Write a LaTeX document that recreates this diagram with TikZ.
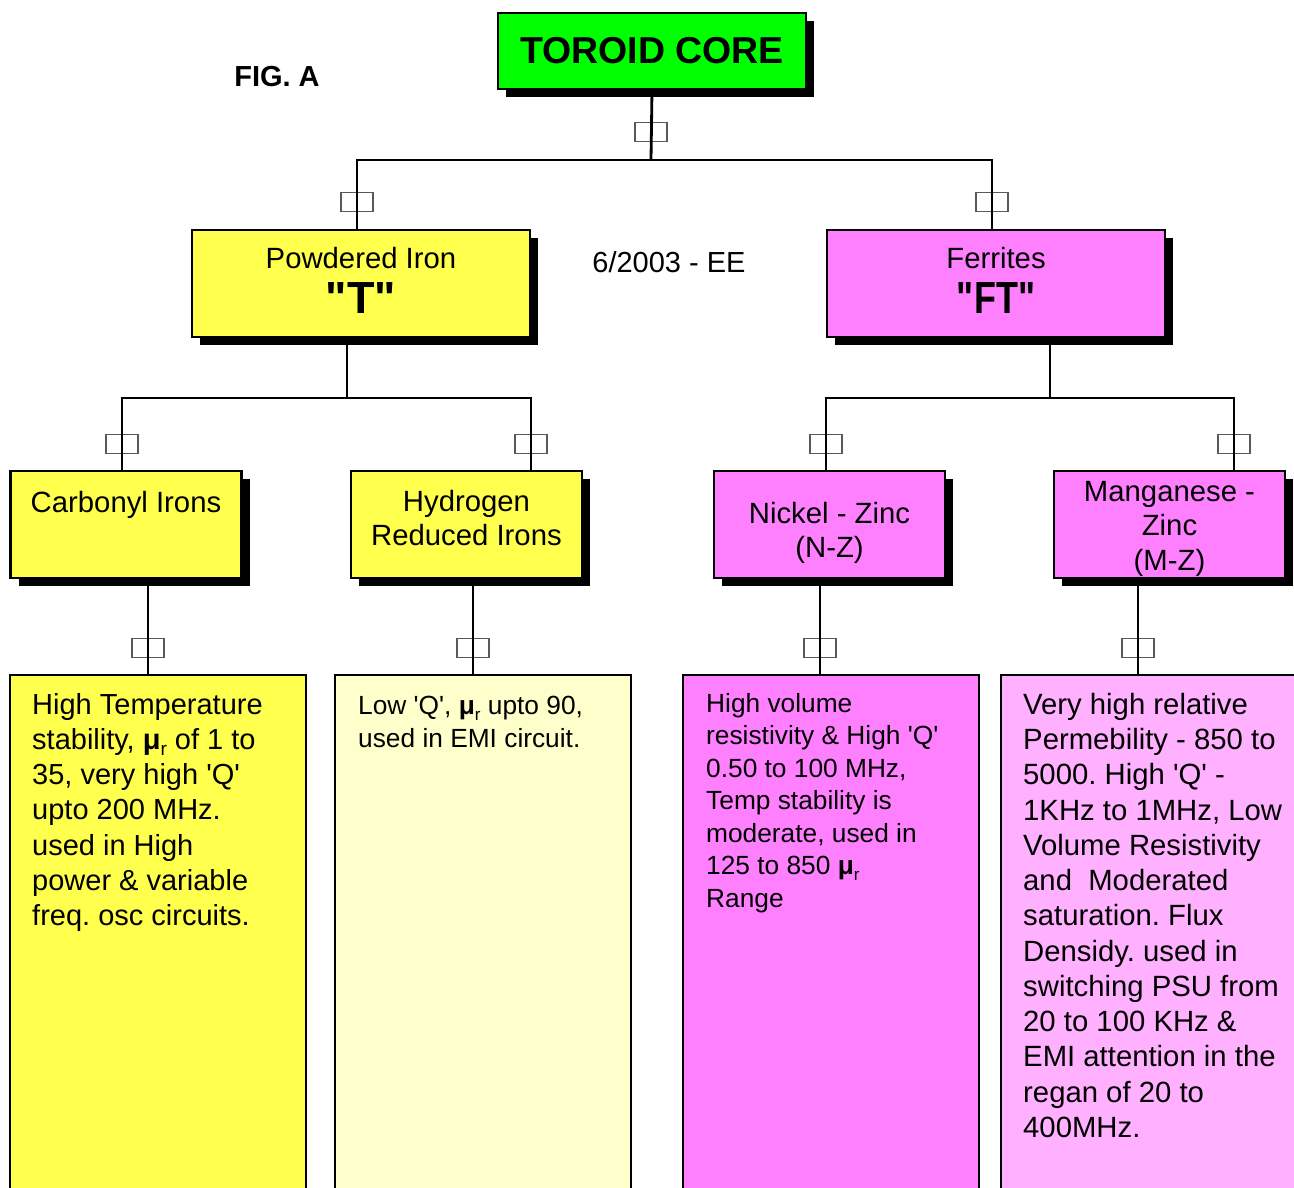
\documentclass[tikz,border=0pt]{standalone}
\usepackage{fontspec}
\newfontfamily\arial{Liberation Sans}
\usetikzlibrary{shadows,backgrounds}
\newcommand\mymu[1]{{\bfseries μ}\raisebox{-0.4ex}{\fontsize{#1}{#1}\selectfont r}}
\definecolor{grn}{HTML}{00FF00}
\definecolor{ylw}{HTML}{FFFF4D}
\definecolor{lylw}{HTML}{FFFFCC}
\definecolor{mag}{HTML}{FF80FF}
\definecolor{lmag}{HTML}{FFB0FF}
\frenchspacing
\begin{document}
\frenchspacing
\begin{tikzpicture}[x=1pt,y=-1pt,
  every node/.style={font=\arial},
  box/.style={draw=black,line width=2.5pt,inner sep=0pt,align=center,
    drop shadow={shadow xshift=8pt,shadow yshift=-8pt,fill=black,opacity=1}},
  kidbox/.style={box,minimum width=231pt,minimum height=107pt,
    font=\arial\fontsize{29.3}{34.5}\selectfont},
  infobox/.style={draw=black,line width=2.5pt,inner sep=0pt,minimum height=525pt},
  infotext/.style={inner sep=0pt,anchor=north west,align=left},
  conn/.style={line width=2.8pt,draw=black},
  jbox/.style={draw=black!65,line width=1.2pt,minimum width=32pt,minimum height=19pt,inner sep=0pt}
]
\useasboundingbox (0,0) rectangle (1294,1188);
\clip (0,0) rectangle (1294,1188);

% top
\node[box,fill=grn,minimum width=308pt,minimum height=76pt,
  font=\arial\bfseries\fontsize{37.5}{40}\selectfont] (tc) at (652,51) {TOROID CORE};
\node[font=\arial\bfseries\fontsize{29}{32}\selectfont] (fig) at (277,77) {FIG. A};
\node[font=\arial\fontsize{29}{32}\selectfont] (date) at (669,262) {6/2003 - EE};

% second level
\node[box,fill=ylw,minimum width=338pt,minimum height=107pt,text depth=6pt,
  font=\arial\fontsize{29.3}{45}\selectfont] (pi) at (361,283.5)
  {Powdered Iron\\{\bfseries\fontsize{45}{45}\selectfont "T"}};
\node[box,fill=mag,minimum width=338pt,minimum height=107pt,text depth=6pt,
  font=\arial\fontsize{29.3}{45}\selectfont] (fe) at (996,283.5)
  {Ferrites\\{\bfseries\fontsize{45}{45}\selectfont\scalebox{0.8}[1]{"FT"}}};

% third level
\node[kidbox,fill=ylw,text height=21pt,text depth=45pt] (cb) at (126,524.5) {Carbonyl Irons};
\node[kidbox,fill=ylw,text depth=13.5pt] (hr) at (466.5,524.5) {Hydrogen\\Reduced Irons};
\node[kidbox,fill=mag,text height=73pt,text depth=7pt] (nz) at (829.5,524.5) {Nickel - Zinc\\(N-Z)};
\node[kidbox,fill=mag,text height=98pt,text depth=7pt] (mz) at (1169.5,524.5) {Manganese -\\Zinc\\(M-Z)};

% bottom info boxes
\node[infobox,fill=ylw,minimum width=296pt] (b1) at (158,937.5) {};
\node[infobox,fill=lylw,minimum width=296pt] (b2) at (483,937.5) {};
\node[infobox,fill=mag,minimum width=296pt] (b3) at (831,937.5) {};
\node[infobox,fill=lmag,minimum width=320pt] (b4) at (1161,937.5) {};

\node[infotext,font=\arial\fontsize{29}{35.2}\selectfont] (t1) at (32,693)
 {High Temperature\\stability, \mymu{19} of 1 to\\35, very high 'Q'\\upto 200 MHz.\\used in High\\power \& variable\\freq. osc circuits.};
\node[infotext,font=\arial\fontsize{26.3}{33}\selectfont] (t2) at (358,696)
 {Low 'Q', \mymu{17} upto 90,\\used in EMI circuit.};
\node[infotext,font=\arial\fontsize{26.3}{32.5}\selectfont] (t3) at (706,693)
 {High volume\\resistivity \& High 'Q'\\0.50 to 100 MHz,\\Temp stability is\\moderate, used in\\125 to 850 \mymu{17}\\Range};
\node[infotext,font=\arial\fontsize{29.3}{35.25}\selectfont] (t4) at (1023,693)
 {Very high relative\\Permebility - 850 to\\5000. High 'Q' -\\1KHz to 1MHz, Low\\Volume Resistivity\\and\ \ Moderated\\saturation. Flux\\Densidy. used in\\switching PSU from\\20 to 100 KHz \&\\EMI attention in the\\regan of 20 to\\400MHz.};

\begin{pgfonlayer}{background}
  \coordinate (bus1) at (651,160);
  \coordinate (bus2) at (347,398);
  \coordinate (bus3) at (1050,398);
  % junction boxes
  \node[jbox] (j0) at (651,132) {};
  \node[jbox] (j1) at (357,202) {};
  \node[jbox] (j2) at (992,202) {};
  \node[jbox] (j3) at (122,444) {};
  \node[jbox] (j4) at (531,444) {};
  \node[jbox] (j5) at (826,444) {};
  \node[jbox] (j6) at (1234,444) {};
  \node[jbox] (j7) at (148,648) {};
  \node[jbox] (j8) at (473,648) {};
  \node[jbox] (j9) at (820,648) {};
  \node[jbox] (j10) at (1138,648) {};
  % connectors
  \draw[conn] (tc.south) -- (bus1);
  \draw[conn] ([xshift=-4pt]pi.north) |- (bus1) -| ([xshift=-4pt]fe.north);
  \draw[conn] (pi.south -| bus2) -- (bus2);
  \draw[conn] ([xshift=-4pt]cb.north) |- (bus2) -| ([xshift=64.5pt]hr.north);
  \draw[conn] (fe.south -| bus3) -- (bus3);
  \draw[conn] ([xshift=-3.5pt]nz.north) |- (bus3) -| ([xshift=64.5pt]mz.north);
  \draw[conn] ([xshift=22pt]cb.south) -- ([xshift=22pt]cb.south |- b1.north);
  \draw[conn] ([xshift=6.5pt]hr.south) -- ([xshift=6.5pt]hr.south |- b2.north);
  \draw[conn] ([xshift=-9.5pt]nz.south) -- ([xshift=-9.5pt]nz.south |- b3.north);
  \draw[conn] ([xshift=-31.5pt]mz.south) -- ([xshift=-31.5pt]mz.south |- b4.north);
\end{pgfonlayer}
\end{tikzpicture}
\end{document}
